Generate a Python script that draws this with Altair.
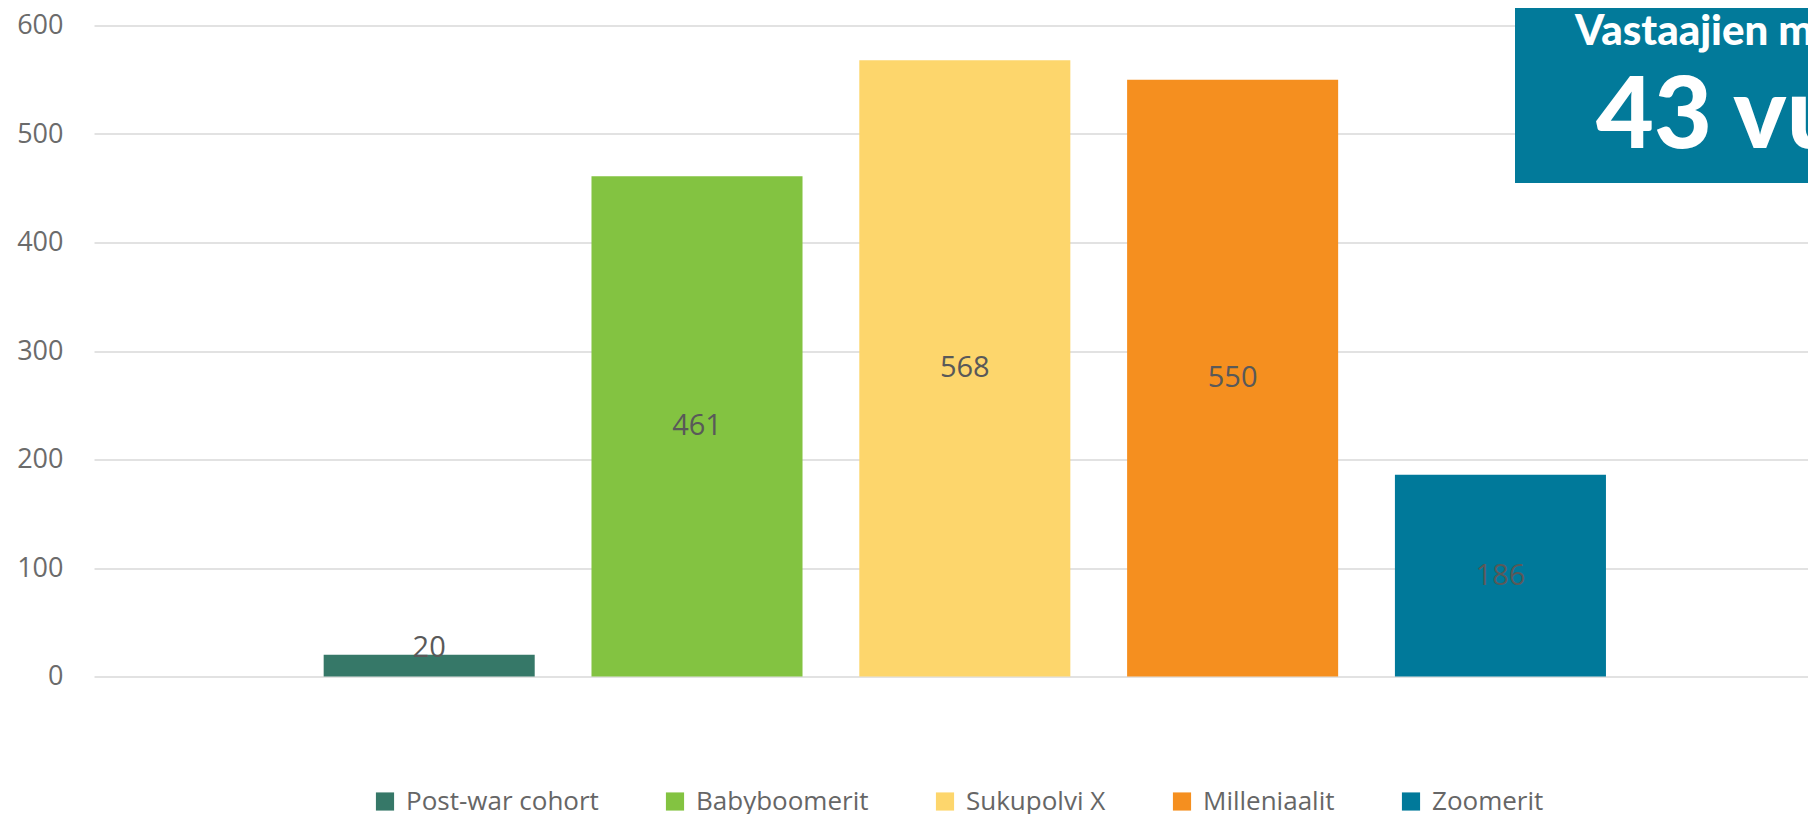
import altair as alt
import pandas as pd

categories = ["Post-war cohort", "Babyboomerit", "Sukupolvi X", "Milleniaalit", "Zoomerit"]
values = [20, 461, 568, 550, 186]
colors = ["#367868", "#83C341", "#FDD66C", "#F58F1F", "#00799A"]
y_ticks = [0, 100, 200, 300, 400, 500, 600]
box_title = "Vastaajien mediaani-ikä"
box_value = "43 vuotta"

df = pd.DataFrame({"category": categories, "value": values})
one = pd.DataFrame({"k": [0]})

W = 1714
H = 651

x_enc = alt.X(
    "category:N",
    sort=categories,
    axis=None,
    scale=alt.Scale(paddingInner=0.212, paddingOuter=0.806, align=0.532),
)
y_scale = alt.Scale(domain=[0, 600], nice=False)

bars = alt.Chart(df).mark_bar().encode(
    x=x_enc,
    y=alt.Y(
        "value:Q",
        scale=y_scale,
        axis=alt.Axis(
            values=y_ticks,
            title=None,
            ticks=False,
            domain=False,
            labelPadding=31,
            labelFontSize=27,
            labelFont="Open Sans",
            labelColor="#6b6b6b",
            gridColor="#d9d9d9",
            gridWidth=1.3,
        ),
    ),
    color=alt.Color(
        "category:N",
        sort=categories,
        scale=alt.Scale(domain=categories, range=colors),
        legend=alt.Legend(
            orient="none",
            legendX=278,
            legendY=763,
            direction="horizontal",
            title=None,
            symbolType="square",
            symbolSize=330,
            symbolStrokeWidth=0,
            symbolOpacity=1,
            labelFontSize=26,
            labelFont="Open Sans",
            labelColor="#666666",
            labelLimit=0,
            columnPadding=63,
            labelOffset=8,
            padding=0,
        ),
    ),
)

labels = (
    alt.Chart(df)
    .transform_calculate(label_y="max(datum.value / 2, 26)")
    .mark_text(font="Open Sans", fontSize=29, color="#595959", baseline="middle", align="center")
    .encode(x=x_enc, y=alt.Y("label_y:Q", scale=y_scale), text="value:Q")
)

box = alt.Chart(one).mark_rect(color="#027A9A").encode(
    x=alt.value(1421), x2=alt.value(1760), y=alt.value(-30), y2=alt.value(157.5)
)

box_t1 = alt.Chart(one).mark_text(
    align="left", baseline="alphabetic", font="Lato", fontWeight=900, fontSize=42,
    color="white"
).encode(x=alt.value(1481), y=alt.value(19.5), text=alt.value(box_title))

box_t2 = alt.Chart(one).mark_text(
    align="left", baseline="alphabetic", font="Lato", fontWeight=900, fontSize=100,
    color="white"
).encode(x=alt.value(1502), y=alt.value(122), text=alt.value(box_value))

chart = (
    alt.layer(bars, labels, box, box_t1, box_t2)
    .properties(
        width=W,
        height=H,
        autosize=alt.AutoSizeParams(type="none"),
        padding={"top": 17.5, "left": 86, "right": 0, "bottom": 137.5},
        background="white",
    )
    .configure_view(stroke=None)
)

chart.save("out.html", embed_options={"renderer": "svg", "actions": False})
